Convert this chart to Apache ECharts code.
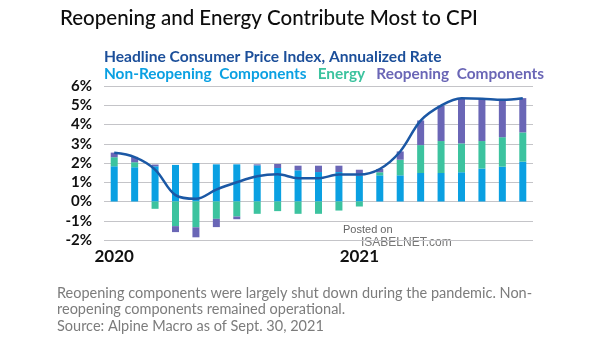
<!DOCTYPE html>
<html>
<head>
<meta charset="utf-8">
<script src="https://cdn.jsdelivr.net/npm/echarts@6/dist/echarts.min.js"></script>
<style>
html,body{margin:0;padding:0;background:#fff;}
#chart{width:605px;height:341px;}
</style>
</head>
<body>
<div id="chart"></div>
<script>
var months = ['2020-01','2020-02','2020-03','2020-04','2020-05','2020-06','2020-07','2020-08','2020-09','2020-10','2020-11','2020-12',
              '2021-01','2021-02','2021-03','2021-04','2021-05','2021-06','2021-07','2021-08','2021-09'];
var nonReopening = [1.83,1.78,1.83,1.90,2.00,1.93,1.93,1.88,1.74,1.62,1.53,1.53,1.34,1.36,1.36,1.48,1.48,1.52,1.71,1.81,2.07];
var energy       = [0.47,0.26,-0.38,-1.28,-1.34,-0.90,-0.78,-0.64,-0.50,-0.64,-0.64,-0.47,-0.26,0.16,0.81,1.45,1.66,1.50,1.43,1.53,1.52];
var reopening    = [0.24,0.28,0.09,-0.31,-0.52,-0.43,-0.14,0.05,0.21,0.24,0.33,0.33,0.31,0.17,0.43,1.28,1.84,2.34,2.19,1.93,1.78];
var headline     = [2.53,2.31,1.66,0.33,0.14,0.62,1.00,1.31,1.41,1.21,1.21,1.40,1.40,1.69,2.60,4.20,4.98,5.36,5.34,5.28,5.36];
var yTicks = {min: -2, max: 6, interval: 1};

var FONT = 'Lato';
var C_BLUE = '#0aa0e2', C_GREEN = '#3cc39f', C_PURPLE = '#6a66b6', C_LINE = '#1b58a5';

var chart = echarts.init(document.getElementById('chart'), null, {renderer: 'canvas'});
chart.setOption({
  animation: false,
  backgroundColor: '#ffffff',
  textStyle: {fontFamily: FONT},
  title: {
    text: 'Reopening and Energy Contribute Most to CPI',
    left: 55, top: 3,
    textStyle: {fontFamily: FONT, fontSize: 20.5, fontWeight: 500, color: '#0d0d0d'}
  },
  grid: {left: 104, right: 72, top: 86, height: 154},
  xAxis: {
    type: 'category',
    data: months,
    axisLine: {show: false, onZero: false},
    axisTick: {show: false},
    axisLabel: {
      interval: 0,
      margin: 8,
      fontFamily: FONT, fontSize: 17, fontWeight: 'bold', color: '#111',
      formatter: function (v) { return v.slice(5) === '01' ? v.slice(0, 4) : ''; }
    }
  },
  yAxis: {
    type: 'value',
    min: yTicks.min, max: yTicks.max, interval: yTicks.interval,
    axisLine: {show: false},
    axisTick: {show: false},
    axisLabel: {
      margin: 12,
      fontFamily: FONT, fontSize: 15, fontWeight: 'bold', color: '#111',
      formatter: '{value}%'
    },
    splitLine: {lineStyle: {color: '#c4c4c8', width: 1}}
  },
  series: [
    {name: 'Non-Reopening Components', type: 'bar', stack: 'cpi', data: nonReopening,
     barWidth: 7, itemStyle: {color: C_BLUE}},
    {name: 'Energy', type: 'bar', stack: 'cpi', data: energy,
     barWidth: 7, itemStyle: {color: C_GREEN}},
    {name: 'Reopening Components', type: 'bar', stack: 'cpi', data: reopening,
     barWidth: 7, itemStyle: {color: C_PURPLE}},
    {name: 'Headline Consumer Price Index, Annualized Rate', type: 'line', data: headline,
     smooth: 0.35, showSymbol: false, symbol: 'none',
     lineStyle: {color: C_LINE, width: 2.5}, z: 5}
  ],
  graphic: [
    {type: 'text', left: 104, top: 49,
     style: {text: 'Headline Consumer Price Index, Annualized Rate', fill: '#1c4f9a',
             font: 'bold 15.6px Lato'}},
    {type: 'text', left: 104, top: 67,
     style: {
       text: '{a|Non-Reopening  Components}   {b|Energy}   {c|Reopening  Components}',
       rich: {
         a: {fill: C_BLUE, font: 'bold 15.4px Lato'},
         b: {fill: C_GREEN, font: 'bold 15.4px Lato'},
         c: {fill: C_PURPLE, font: 'bold 15.4px Lato'}
       },
       font: 'bold 15.4px Lato'
     }},
    {type: 'text', left: 343, top: 224,
     style: {text: 'Posted on', fill: '#666', font: '11px "Liberation Sans"'}},
    {type: 'text', left: 361, top: 237,
     style: {text: 'ISABELNET.com', fill: '#777', font: '12px "Liberation Sans"'}},
    {type: 'text', left: 57, top: 285,
     style: {
       text: 'Reopening components were largely shut down during the pandemic. Non-\nreopening components remained operational.\nSource: Alpine Macro as of Sept. 30, 2021',
       fill: '#7c7c7c', font: '14.5px Lato', lineHeight: 16.5
     }}
  ]
});
</script>
</body>
</html>
